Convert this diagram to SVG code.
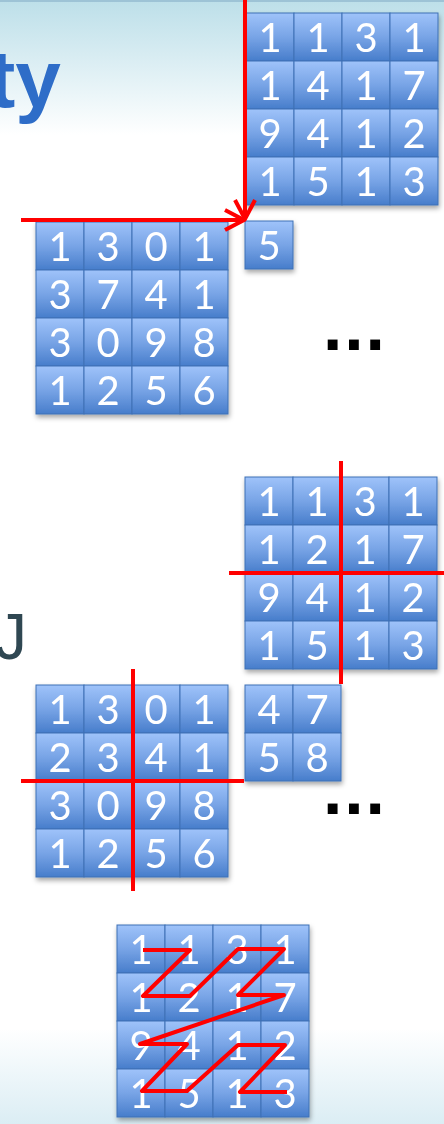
<svg xmlns="http://www.w3.org/2000/svg" width="444" height="1124" viewBox="0 0 444 1124">
<defs>
<linearGradient id="bg" x1="0" y1="0" x2="0" y2="1">
<stop offset="0" stop-color="#bcdfe9"/>
<stop offset="0.12" stop-color="#ffffff"/>
<stop offset="0.915" stop-color="#ffffff"/>
<stop offset="1" stop-color="#dbedf4"/>
</linearGradient>
<linearGradient id="cg" x1="0" y1="0" x2="0" y2="1">
<stop offset="0" stop-color="#9fc3fa"/>
<stop offset="0.5" stop-color="#78a4e6"/>
<stop offset="1" stop-color="#477dcb"/>
</linearGradient>
<filter id="sh" x="-10%" y="-10%" width="130%" height="130%">
<feDropShadow dx="1" dy="3" stdDeviation="2.5" flood-color="#000" flood-opacity="0.35"/>
</filter>
<marker id="ah" markerUnits="userSpaceOnUse" viewBox="0 0 24 24" markerWidth="24" markerHeight="24" refX="22" refY="12" orient="auto">
<path d="M3,2 L22,12 L3,22" fill="none" stroke="#ff0000" stroke-width="4"/>
</marker>
<style>
.c{fill:url(#cg);stroke:#3f70b5;stroke-width:1}
.t{font-family:Lato,"Open Sans",sans-serif;font-size:40px;fill:#ffffff;text-anchor:middle}
.r{fill:none;stroke:#ff0000;stroke-width:4}
.dots{font-family:"DejaVu Sans",sans-serif;font-weight:bold;font-size:56px;fill:#000}
</style>
</defs>
<rect x="0" y="0" width="444" height="1124" fill="url(#bg)"/>
<rect x="0" y="0" width="444" height="2" fill="#9dc3d6"/>
<text x="-12" y="107" font-family="Liberation Sans, Arial, sans-serif" font-weight="bold" font-size="82" fill="#2e6dc8">ty</text>
<text x="-5" y="659" font-family="Liberation Sans, Arial, sans-serif" font-size="64" fill="#2f4752">J</text>

<g id="m1" filter="url(#sh)">
<rect class="c" x="246" y="13" width="48" height="48"/><rect class="c" x="294" y="13" width="48" height="48"/><rect class="c" x="342" y="13" width="48" height="48"/><rect class="c" x="390" y="13" width="48" height="48"/>
<rect class="c" x="246" y="61" width="48" height="48"/><rect class="c" x="294" y="61" width="48" height="48"/><rect class="c" x="342" y="61" width="48" height="48"/><rect class="c" x="390" y="61" width="48" height="48"/>
<rect class="c" x="246" y="109" width="48" height="48"/><rect class="c" x="294" y="109" width="48" height="48"/><rect class="c" x="342" y="109" width="48" height="48"/><rect class="c" x="390" y="109" width="48" height="48"/>
<rect class="c" x="246" y="157" width="48" height="48"/><rect class="c" x="294" y="157" width="48" height="48"/><rect class="c" x="342" y="157" width="48" height="48"/><rect class="c" x="390" y="157" width="48" height="48"/>
<text class="t" x="270" y="52">1</text><text class="t" x="318" y="52">1</text><text class="t" x="366" y="52">3</text><text class="t" x="414" y="52">1</text>
<text class="t" x="270" y="100">1</text><text class="t" x="318" y="100">4</text><text class="t" x="366" y="100">1</text><text class="t" x="414" y="100">7</text>
<text class="t" x="270" y="148">9</text><text class="t" x="318" y="148">4</text><text class="t" x="366" y="148">1</text><text class="t" x="414" y="148">2</text>
<text class="t" x="270" y="196">1</text><text class="t" x="318" y="196">5</text><text class="t" x="366" y="196">1</text><text class="t" x="414" y="196">3</text>
</g>

<g id="m2" filter="url(#sh)">
<rect class="c" x="245" y="221" width="48" height="48"/>
<text class="t" x="269" y="260">5</text>
</g>

<g id="m3" filter="url(#sh)">
<rect class="c" x="36" y="222" width="48" height="48"/><rect class="c" x="84" y="222" width="48" height="48"/><rect class="c" x="132" y="222" width="48" height="48"/><rect class="c" x="180" y="222" width="48" height="48"/>
<rect class="c" x="36" y="270" width="48" height="48"/><rect class="c" x="84" y="270" width="48" height="48"/><rect class="c" x="132" y="270" width="48" height="48"/><rect class="c" x="180" y="270" width="48" height="48"/>
<rect class="c" x="36" y="318" width="48" height="48"/><rect class="c" x="84" y="318" width="48" height="48"/><rect class="c" x="132" y="318" width="48" height="48"/><rect class="c" x="180" y="318" width="48" height="48"/>
<rect class="c" x="36" y="366" width="48" height="48"/><rect class="c" x="84" y="366" width="48" height="48"/><rect class="c" x="132" y="366" width="48" height="48"/><rect class="c" x="180" y="366" width="48" height="48"/>
<text class="t" x="60" y="261">1</text><text class="t" x="108" y="261">3</text><text class="t" x="156" y="261">0</text><text class="t" x="204" y="261">1</text>
<text class="t" x="60" y="309">3</text><text class="t" x="108" y="309">7</text><text class="t" x="156" y="309">4</text><text class="t" x="204" y="309">1</text>
<text class="t" x="60" y="357">3</text><text class="t" x="108" y="357">0</text><text class="t" x="156" y="357">9</text><text class="t" x="204" y="357">8</text>
<text class="t" x="60" y="405">1</text><text class="t" x="108" y="405">2</text><text class="t" x="156" y="405">5</text><text class="t" x="204" y="405">6</text>
</g>

<g id="m4" filter="url(#sh)">
<rect class="c" x="245" y="477" width="48" height="48"/><rect class="c" x="293" y="477" width="48" height="48"/><rect class="c" x="341" y="477" width="48" height="48"/><rect class="c" x="389" y="477" width="48" height="48"/>
<rect class="c" x="245" y="525" width="48" height="48"/><rect class="c" x="293" y="525" width="48" height="48"/><rect class="c" x="341" y="525" width="48" height="48"/><rect class="c" x="389" y="525" width="48" height="48"/>
<rect class="c" x="245" y="573" width="48" height="48"/><rect class="c" x="293" y="573" width="48" height="48"/><rect class="c" x="341" y="573" width="48" height="48"/><rect class="c" x="389" y="573" width="48" height="48"/>
<rect class="c" x="245" y="621" width="48" height="48"/><rect class="c" x="293" y="621" width="48" height="48"/><rect class="c" x="341" y="621" width="48" height="48"/><rect class="c" x="389" y="621" width="48" height="48"/>
<text class="t" x="269" y="516">1</text><text class="t" x="317" y="516">1</text><text class="t" x="365" y="516">3</text><text class="t" x="413" y="516">1</text>
<text class="t" x="269" y="564">1</text><text class="t" x="317" y="564">2</text><text class="t" x="365" y="564">1</text><text class="t" x="413" y="564">7</text>
<text class="t" x="269" y="612">9</text><text class="t" x="317" y="612">4</text><text class="t" x="365" y="612">1</text><text class="t" x="413" y="612">2</text>
<text class="t" x="269" y="660">1</text><text class="t" x="317" y="660">5</text><text class="t" x="365" y="660">1</text><text class="t" x="413" y="660">3</text>
</g>

<g id="m5" filter="url(#sh)">
<rect class="c" x="36" y="685" width="48" height="48"/><rect class="c" x="84" y="685" width="48" height="48"/><rect class="c" x="132" y="685" width="48" height="48"/><rect class="c" x="180" y="685" width="48" height="48"/>
<rect class="c" x="36" y="733" width="48" height="48"/><rect class="c" x="84" y="733" width="48" height="48"/><rect class="c" x="132" y="733" width="48" height="48"/><rect class="c" x="180" y="733" width="48" height="48"/>
<rect class="c" x="36" y="781" width="48" height="48"/><rect class="c" x="84" y="781" width="48" height="48"/><rect class="c" x="132" y="781" width="48" height="48"/><rect class="c" x="180" y="781" width="48" height="48"/>
<rect class="c" x="36" y="829" width="48" height="48"/><rect class="c" x="84" y="829" width="48" height="48"/><rect class="c" x="132" y="829" width="48" height="48"/><rect class="c" x="180" y="829" width="48" height="48"/>
<text class="t" x="60" y="724">1</text><text class="t" x="108" y="724">3</text><text class="t" x="156" y="724">0</text><text class="t" x="204" y="724">1</text>
<text class="t" x="60" y="772">2</text><text class="t" x="108" y="772">3</text><text class="t" x="156" y="772">4</text><text class="t" x="204" y="772">1</text>
<text class="t" x="60" y="820">3</text><text class="t" x="108" y="820">0</text><text class="t" x="156" y="820">9</text><text class="t" x="204" y="820">8</text>
<text class="t" x="60" y="868">1</text><text class="t" x="108" y="868">2</text><text class="t" x="156" y="868">5</text><text class="t" x="204" y="868">6</text>
</g>

<g id="m6" filter="url(#sh)">
<rect class="c" x="245" y="685" width="48" height="48"/><rect class="c" x="293" y="685" width="48" height="48"/>
<rect class="c" x="245" y="733" width="48" height="48"/><rect class="c" x="293" y="733" width="48" height="48"/>
<text class="t" x="269" y="724">4</text><text class="t" x="317" y="724">7</text>
<text class="t" x="269" y="772">5</text><text class="t" x="317" y="772">8</text>
</g>

<g id="m7" filter="url(#sh)">
<rect class="c" x="117" y="925" width="48" height="48"/><rect class="c" x="165" y="925" width="48" height="48"/><rect class="c" x="213" y="925" width="48" height="48"/><rect class="c" x="261" y="925" width="48" height="48"/>
<rect class="c" x="117" y="973" width="48" height="48"/><rect class="c" x="165" y="973" width="48" height="48"/><rect class="c" x="213" y="973" width="48" height="48"/><rect class="c" x="261" y="973" width="48" height="48"/>
<rect class="c" x="117" y="1021" width="48" height="48"/><rect class="c" x="165" y="1021" width="48" height="48"/><rect class="c" x="213" y="1021" width="48" height="48"/><rect class="c" x="261" y="1021" width="48" height="48"/>
<rect class="c" x="117" y="1069" width="48" height="48"/><rect class="c" x="165" y="1069" width="48" height="48"/><rect class="c" x="213" y="1069" width="48" height="48"/><rect class="c" x="261" y="1069" width="48" height="48"/>
<text class="t" x="141" y="964">1</text><text class="t" x="189" y="964">1</text><text class="t" x="237" y="964">3</text><text class="t" x="285" y="964">1</text>
<text class="t" x="141" y="1012">1</text><text class="t" x="189" y="1012">2</text><text class="t" x="237" y="1012">1</text><text class="t" x="285" y="1012">7</text>
<text class="t" x="141" y="1060">9</text><text class="t" x="189" y="1060">4</text><text class="t" x="237" y="1060">1</text><text class="t" x="285" y="1060">2</text>
<text class="t" x="141" y="1108">1</text><text class="t" x="189" y="1108">5</text><text class="t" x="237" y="1108">1</text><text class="t" x="285" y="1108">3</text>
</g>

<g id="ellipsis1"><text class="dots" x="322" y="350">...</text></g>
<g id="ellipsis2"><text class="dots" x="322" y="814">...</text></g>

<g id="connectors">
<line class="r" x1="245" y1="0" x2="245" y2="219" marker-end="url(#ah)"/>
<line class="r" x1="21" y1="220" x2="244" y2="220" marker-end="url(#ah)"/>
<line class="r" x1="341" y1="461" x2="341" y2="684"/>
<line class="r" x1="229" y1="573" x2="444" y2="573"/>
<line class="r" x1="133" y1="669" x2="133" y2="891"/>
<line class="r" x1="21" y1="781" x2="244" y2="781"/>
<polyline class="r" stroke-linejoin="round" points="143,950 190,950 143,996 190,996 238,949 284,949 238,995 284,995 140,1044 187,1044 142,1091 187,1091 238,1045 285,1045 240,1092 287,1092"/>
</g>
</svg>
